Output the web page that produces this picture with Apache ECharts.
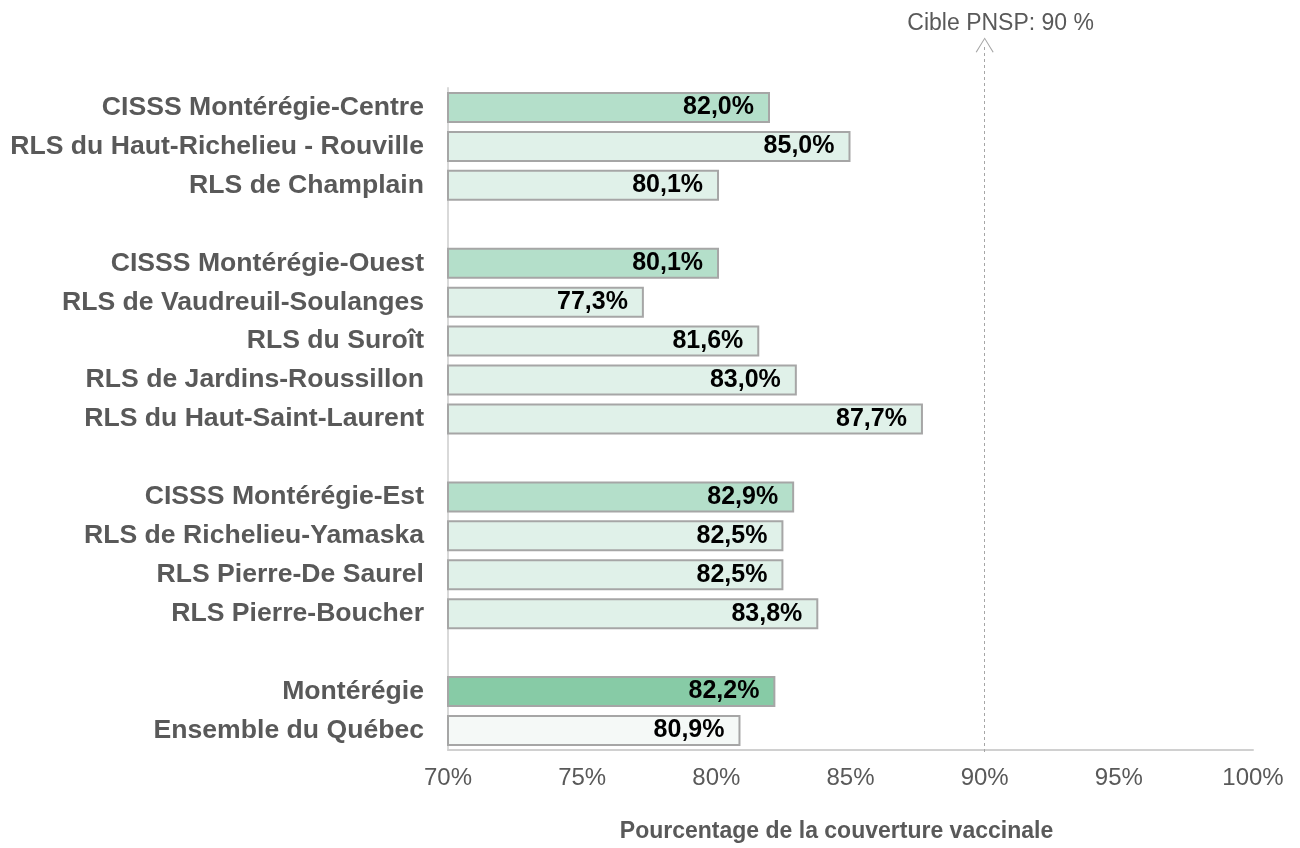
<!DOCTYPE html>
<html>
<head>
<meta charset="utf-8">
<script src="https://cdn.jsdelivr.net/npm/echarts@6/dist/echarts.min.js"></script>
<style>
  html, body { margin: 0; padding: 0; background: #fff; }
  #chart { width: 1300px; height: 848px; }
</style>
</head>
<body>
<div id="chart"></div>
<script>
// catégories (les '' sont les espaces entre les groupes)
const categories = [
  'CISSS Montérégie-Centre',
  'RLS du Haut-Richelieu - Rouville',
  'RLS de Champlain',
  '',
  'CISSS Montérégie-Ouest',
  'RLS de Vaudreuil-Soulanges',
  'RLS du Suroît',
  'RLS de Jardins-Roussillon',
  'RLS du Haut-Saint-Laurent',
  '',
  'CISSS Montérégie-Est',
  'RLS de Richelieu-Yamaska',
  'RLS Pierre-De Saurel',
  'RLS Pierre-Boucher',
  '',
  'Montérégie',
  'Ensemble du Québec'
]
const coverage = [82.0, 85.0, 80.1, null, 80.1, 77.3, 81.6, 83.0, 87.7, null, 82.9, 82.5, 82.5, 83.8, null, 82.2, 80.9]
// type de niveau : cisss / rls / region / quebec
const levels = ['cisss', 'rls', 'rls', null, 'cisss', 'rls', 'rls', 'rls', 'rls', null, 'cisss', 'rls', 'rls', 'rls', null, 'region', 'quebec']
const xTicks = [70, 75, 80, 85, 90, 95, 100]
const target = 90
const targetLabel = 'Cible PNSP: 90 %'

const COLORS = {
  cisss: '#b4dfca',
  rls: '#e0f1e9',
  region: '#87cba6',
  quebec: '#f5f9f7'
}
const FONT = '"Liberation Sans", Arial, sans-serif'
const GREY = '#595959'

const GRID_LEFT = 448
const GRID_RIGHT = 47
const GRID_BOTTOM = 96

const chart = echarts.init(document.getElementById('chart'), null, { renderer: 'canvas' })

const barData = coverage.map((v, i) => {
  if (v == null) return '-'
  return { value: v, itemStyle: { color: COLORS[levels[i]] } }
})

// chevron ouvert, pointe vers le haut
const chevron = 'path://M0,15 L9,0 L18,15 L17,15.6 L9,1.8 L1,15.6 Z'

chart.setOption({
  animation: false,
  textStyle: { fontFamily: FONT },
  grid: [
    { left: GRID_LEFT, right: GRID_RIGHT, top: 88, bottom: GRID_BOTTOM },
    // grille fantôme plus haute pour la flèche de la cible
    { left: GRID_LEFT, right: GRID_RIGHT, top: 45, bottom: GRID_BOTTOM }
  ],
  xAxis: [
    {
      type: 'value',
      gridIndex: 0,
      min: xTicks[0],
      max: xTicks[xTicks.length - 1],
      interval: 5,
      axisLine: { show: true, lineStyle: { color: '#d0d0d0', width: 2 } },
      axisTick: { show: false },
      splitLine: { show: false },
      axisLabel: {
        color: GREY,
        fontSize: 24,
        margin: 16,
        formatter: v => v + '%'
      },
      name: 'Pourcentage de la couverture vaccinale',
      nameLocation: 'middle',
      nameGap: 70,
      nameTextStyle: {
        color: GREY,
        fontSize: 23,
        fontWeight: 'bold',
        padding: [0, 28, 0, 0]
      }
    },
    {
      type: 'value',
      gridIndex: 1,
      min: xTicks[0],
      max: xTicks[xTicks.length - 1],
      show: false
    }
  ],
  yAxis: [
    {
      type: 'category',
      gridIndex: 0,
      inverse: true,
      data: categories,
      axisLine: { show: true, lineStyle: { color: '#d9d9d9', width: 2 } },
      axisTick: { show: false },
      axisLabel: {
        color: GREY,
        fontSize: 26.6,
        fontWeight: 'bold',
        margin: 24
      }
    },
    {
      type: 'value',
      gridIndex: 1,
      min: 0,
      max: 1,
      show: false
    }
  ],
  series: [
    {
      type: 'bar',
      xAxisIndex: 0,
      yAxisIndex: 0,
      data: barData,
      barWidth: 31,
      itemStyle: { borderColor: '#a6a6a6', borderWidth: 2 },
      label: {
        show: true,
        position: 'insideRight',
        distance: 16,
        color: '#000',
        fontSize: 25,
        fontWeight: 'bold',
        formatter: p => p.value.toFixed(1).replace('.', ',') + '%'
      }
    },
    {
      type: 'line',
      xAxisIndex: 1,
      yAxisIndex: 1,
      data: [],
      silent: true,
      markLine: {
        silent: true,
        symbol: ['none', chevron],
        symbolSize: [18, 15],
        lineStyle: { color: '#a6a6a6', width: 1, type: [3, 3] },
        label: {
          show: true,
          position: 'end',
          formatter: targetLabel,
          color: GREY,
          fontSize: 23,
          distance: 10,
          padding: [0, 0, 0, 32]
        },
        data: [{ xAxis: target }]
      }
    }
  ]
})
</script>
</body>
</html>
